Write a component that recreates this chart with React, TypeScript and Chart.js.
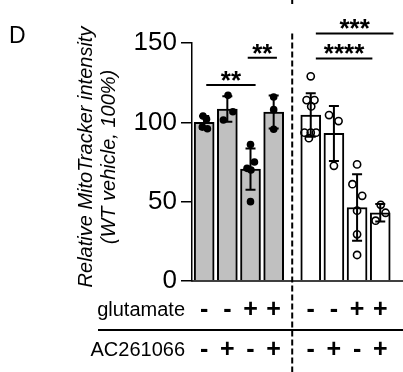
import React, { useEffect, useRef } from "react";
import { Chart, registerables } from "chart.js";
Chart.register(...registerables);

const panelLabel = "D";
const yTitleLines = ["Relative MitoTracker intensity", "(WT vehicle, 100%)"];
const rowNames = ["glutamate", "AC261066"];
const glutamate = ["-", "-", "+", "+", "-", "-", "+", "+"];
const ac261066 = ["-", "+", "-", "+", "-", "+", "-", "+"];
const barPositions = [0, 1, 2, 3, 4.6, 5.6, 6.6, 7.6];
const means = [100, 108.4, 70.5, 106.5, 104.6, 93, 46.3, 43];
const sds = [4, 8, 13, 10.4, 13.7, 17.3, 21, 5.5];
const dots = [
  [104, 102, 97, 96],
  [117, 106.7, 101.5],
  [86, 75, 71, 70, 50],
  [116, 108, 95.6],
  [129, 114, 114, 110, 93.5, 93.5, 93.5, 90],
  [104.6, 100.8, 72.6],
  [73.5, 61, 53.7, 44.3, 29.4, 16.4],
  [48, 43, 38],
];
const jitter = [
  [-0.05, 0.1, -0.08, 0.14],
  [0.03, 0.24, -0.17],
  [0, 0.17, -0.15, 0.02, 0],
  [0, 0, 0],
  [0, -0.18, 0.16, 0.02, -0.27, 0, 0.23, -0.08],
  [-0.21, 0.2, 0],
  [0, -0.2, 0.22, 0, 0, 0],
  [0.02, 0.23, -0.2],
];
const filledGroup = [true, true, true, true, false, false, false, false];
const yTicks = [0, 50, 100, 150];
const brackets = [
  { from: 0.09, to: 2.22, y: 123.5, label: "**" },
  { from: 1.88, to: 3.14, y: 140.7, label: "**" },
  { from: 4.82, to: 7.26, y: 140.3, label: "****" },
  { from: 4.82, to: 8.17, y: 156, label: "***" },
];
const dividerX = 3.8;

const FONT = "'Liberation Sans', Arial, sans-serif";

const overlay = {
  id: "overlay",
  afterDatasetDraw(chart: any, args: any) {
    if (args.index !== 0) return;
    const ctx = chart.ctx;
    const xs = chart.scales.x;
    const ys = chart.scales.y;
    ctx.save();
    ctx.strokeStyle = "#000";
    ctx.lineWidth = 2;
    means.forEach((m, i) => {
      const x = xs.getPixelForValue(barPositions[i]);
      const t = ys.getPixelForValue(m + sds[i]);
      const b = ys.getPixelForValue(m - sds[i]);
      ctx.beginPath();
      ctx.moveTo(x, t);
      ctx.lineTo(x, b);
      ctx.moveTo(x - 5, t);
      ctx.lineTo(x + 5, t);
      ctx.moveTo(x - 5, b);
      ctx.lineTo(x + 5, b);
      ctx.stroke();
    });
    ctx.restore();
  },
  afterDraw(chart: any) {
    const ctx = chart.ctx;
    const xs = chart.scales.x;
    const ys = chart.scales.y;
    const area = chart.chartArea;
    ctx.save();
    ctx.fillStyle = "#000";
    ctx.strokeStyle = "#000";
    // baseline
    ctx.lineWidth = 1.5;
    ctx.beginPath();
    ctx.moveTo(area.left - 0.75, area.bottom);
    ctx.lineTo(chart.width, area.bottom);
    ctx.stroke();
    // brackets
    ctx.lineWidth = 2;
    ctx.font = `bold 26px ${FONT}`;
    ctx.textAlign = "center";
    ctx.textBaseline = "alphabetic";
    brackets.forEach((br) => {
      const x1 = xs.getPixelForValue(br.from);
      const x2 = xs.getPixelForValue(br.to);
      const y = ys.getPixelForValue(br.y);
      ctx.beginPath();
      ctx.moveTo(x1, y);
      ctx.lineTo(x2, y);
      ctx.stroke();
      ctx.fillText(br.label, (x1 + x2) / 2, y + 4);
    });
    // dashed divider
    const dx = xs.getPixelForValue(dividerX);
    ctx.setLineDash([6, 3]);
    ctx.beginPath();
    ctx.moveTo(dx, 0);
    ctx.lineTo(dx, 4);
    ctx.moveTo(dx, ys.getPixelForValue(156));
    ctx.lineTo(dx, chart.height);
    ctx.stroke();
    ctx.setLineDash([]);
    // panel label
    ctx.textAlign = "left";
    ctx.font = `23px ${FONT}`;
    ctx.fillText(panelLabel, 9, 43);
    // y title
    ctx.font = `italic 20px ${FONT}`;
    ctx.textAlign = "center";
    const cy = 157;
    [92, 115].forEach((bx, i) => {
      ctx.save();
      ctx.translate(bx, cy);
      ctx.rotate(-Math.PI / 2);
      ctx.fillText(yTitleLines[i], 0, 0);
      ctx.restore();
    });
    // rows
    const rowBase = [316, 356];
    const rows = [glutamate, ac261066];
    rows.forEach((row, r) => {
      ctx.font = `20px ${FONT}`;
      ctx.textAlign = "right";
      ctx.fillText(rowNames[r], 185, rowBase[r]);
      ctx.font = `bold 25px ${FONT}`;
      ctx.textAlign = "center";
      row.forEach((s, i) => {
        ctx.fillText(s, xs.getPixelForValue(barPositions[i]), rowBase[r] + 1);
      });
    });
    // separator
    ctx.lineWidth = 2;
    ctx.beginPath();
    ctx.moveTo(98, 330);
    ctx.lineTo(chart.width, 330);
    ctx.stroke();
    ctx.restore();
  },
};

export default function App() {
  const ref = useRef<HTMLCanvasElement>(null);
  useEffect(() => {
    if (!ref.current) return;
    const unit = 23.8;
    const areaLeft = 192;
    const width = 403;
    const xMin = -12.5 / unit;
    const xMax = xMin + (width - areaLeft) / unit;
    const filledPts: any[] = [];
    const openPts: any[] = [];
    dots.forEach((arr, i) => {
      arr.forEach((v, j) => {
        const p = { x: barPositions[i] + jitter[i][j], y: v };
        (filledGroup[i] ? filledPts : openPts).push(p);
      });
    });
    const chart = new Chart(ref.current, {
      type: "bar",
      data: {
        datasets: [
          {
            type: "bar",
            data: barPositions.map((x, i) => ({ x, y: means[i] })),
            backgroundColor: filledGroup.map((f) => (f ? "#c0c0c0" : "#ffffff")),
            borderColor: "#000",
            borderWidth: 2,
            barThickness: 20,
            order: 2,
          } as any,
          {
            type: "scatter",
            data: filledPts,
            pointRadius: 3.8,
            pointBackgroundColor: "#000",
            pointBorderColor: "#000",
            pointBorderWidth: 0,
            order: 0,
          } as any,
          {
            type: "scatter",
            data: openPts,
            pointRadius: 3.6,
            pointBackgroundColor: "rgba(0,0,0,0)",
            pointBorderColor: "#000",
            pointBorderWidth: 1.6,
            order: 0,
          } as any,
        ],
      },
      options: {
        animation: false,
        responsive: false,
        devicePixelRatio: 1,
        layout: { padding: { top: 43, bottom: 91, left: 0, right: 0 } },
        plugins: { legend: { display: false }, tooltip: { enabled: false } },
        scales: {
          x: {
            type: "linear",
            min: xMin,
            max: xMax,
            offset: false,
            display: false,
          },
          y: {
            min: 0,
            max: 150,
            afterBuildTicks: (s: any) => {
              s.ticks = yTicks.map((v) => ({ value: v }));
            },
            afterFit: (s: any) => {
              s.width = areaLeft;
            },
            grid: {
              drawOnChartArea: false,
              drawTicks: true,
              tickLength: 11,
              color: "#000",
              lineWidth: 1.5,
            },
            border: { display: true, color: "#000", width: 1.5 },
            ticks: {
              color: "#000",
              padding: 4,
              font: { family: FONT, size: 26 },
            },
          },
        },
      },
      plugins: [overlay],
    });
    return () => chart.destroy();
  }, []);
  return (
    <div style={{ position: "absolute", left: 0, top: 0 }}>
      <canvas ref={ref} width={403} height={372} style={{ width: 403, height: 372, display: "block" }} />
    </div>
  );
}
